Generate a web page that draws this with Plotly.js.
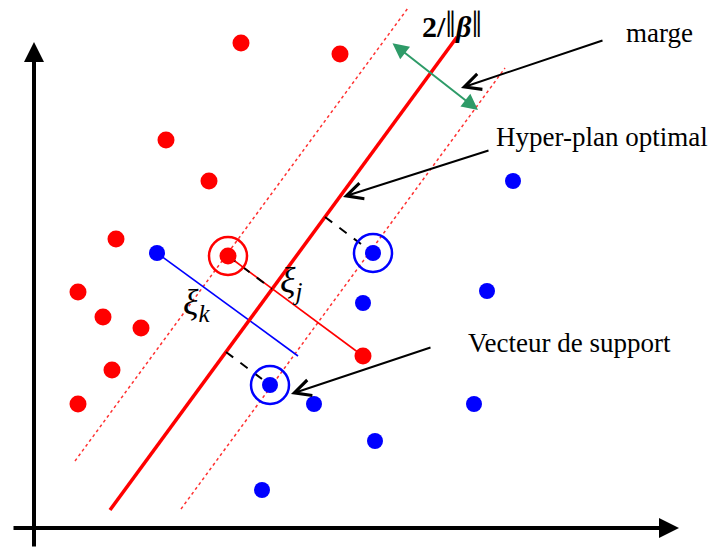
<!DOCTYPE html>
<html>
<head>
<meta charset="utf-8">
<script src="https://cdn.plot.ly/plotly-3.0.1.min.js"></script>
<style>html,body{margin:0;padding:0;background:#fff;}#chart{width:723px;height:548px;}</style>
</head>
<body>
<div id="chart"></div>
<script>
// Class +1 (red) points
const redX = [241, 340, 166, 209, 116, 228, 78, 103, 141, 112, 78, 363];
const redY = [43, 54, 140, 181, 239, 256, 292, 317, 328, 370, 404, 356];
// Class -1 (blue) points
const blueX = [513, 157, 373, 487, 363, 270, 314, 474, 375, 262];
const blueY = [181, 253, 253, 291, 303, 385, 404, 404, 441, 490];
// Support vectors (circled)
const svX = [228, 373, 270];
const svY = [256, 253, 385];
const svColor = ['#ff0000', '#0000ff', '#0000ff'];
// Optimal hyperplane and margins
const hpX = [110, 457], hpY = [510, 37];
const upX = [75, 408], upY = [461, 8];
const loX = [181, 505], loY = [509, 68];
// Slack segments
const xiKX = [157, 298], xiKY = [253, 356];
const xiJX = [228, 363], xiJY = [256, 356];
// Distances from support vectors to hyperplane (dashed)
const d1X = [325, 373], d1Y = [217, 253];
const d2X = [226, 270], d2Y = [352, 385];
const d3X = [228, 272], d3Y = [256, 289];

const traces = [
  {x: upX, y: upY, mode: 'lines', line: {color: '#ff3030', width: 1.5, dash: 'dot'}},
  {x: loX, y: loY, mode: 'lines', line: {color: '#ff3030', width: 1.5, dash: 'dot'}},
  {x: xiKX, y: xiKY, mode: 'lines', line: {color: '#0000ff', width: 1.6}},
  {x: xiJX, y: xiJY, mode: 'lines', line: {color: '#ff0000', width: 1.6}},
  {x: hpX, y: hpY, mode: 'lines', line: {color: '#ff0000', width: 3.5}},
  {x: d1X, y: d1Y, mode: 'lines', line: {color: '#000', width: 2, dash: 'dash'}},
  {x: d2X, y: d2Y, mode: 'lines', line: {color: '#000', width: 2, dash: 'dash'}},
  {x: d3X, y: d3Y, mode: 'lines', line: {color: '#000', width: 2, dash: 'dash'}},
  {x: redX, y: redY, mode: 'markers', marker: {color: '#ff0000', size: 17}},
  {x: blueX, y: blueY, mode: 'markers', marker: {color: '#0000ff', size: 16}}
];

const shapes = svX.map((cx, i) => ({
  type: 'circle', xref: 'x', yref: 'y',
  x0: cx - 19, x1: cx + 19, y0: svY[i] - 19, y1: svY[i] + 19,
  line: {color: svColor[i], width: 2.5}
}));

const serif = '"Liberation Serif", "Times New Roman", serif';
function arrow(x, y, ax, ay, opts) {
  return Object.assign({
    x: x, y: y, ax: ax, ay: ay, xref: 'x', yref: 'y', axref: 'x', ayref: 'y',
    text: '', showarrow: true, arrowcolor: '#000', arrowwidth: 2, arrowhead: 5, arrowsize: 1.6
  }, opts || {});
}
function label(x, y, text, size) {
  return {x: x, y: y, xref: 'x', yref: 'y', xanchor: 'left', yanchor: 'middle', showarrow: false,
    text: text, font: {family: serif, size: size, color: '#000'}};
}
const bars = '<span style="font-size:38px;font-weight:normal">‖</span>';
const annotations = [
  arrow(34, 42, 34, 548, {arrowwidth: 4, arrowhead: 2, arrowsize: 1}),
  arrow(679, 528, 12, 528, {arrowwidth: 4, arrowhead: 2, arrowsize: 1}),
  arrow(478, 110, 391, 42, {arrowcolor: '#2e9b68', arrowwidth: 2, arrowhead: 2, arrowsize: 1.6, arrowside: 'end+start'}),
  arrow(461, 88, 604, 40),
  arrow(343, 197, 490, 150),
  arrow(291, 394, 432, 347),
  label(420, 24, '<b>2/</b>' + bars + '<b><i>β</i></b>' + bars, 30),
  label(624, 33, 'marge', 27),
  label(494, 137, 'Hyper-plan optimal', 27),
  label(466, 343, 'Vecteur de support', 27),
  label(278, 282, '<i>ξ<sub>j</sub></i>', 36),
  label(181, 304, '<i>ξ<sub>k</sub></i>', 36)
];

const layout = {
  width: 723, height: 548,
  margin: {l: 0, r: 0, t: 0, b: 0},
  paper_bgcolor: '#fff', plot_bgcolor: '#fff',
  showlegend: false,
  xaxis: {range: [0, 723], visible: false, fixedrange: true},
  yaxis: {range: [548, 0], visible: false, fixedrange: true},
  shapes: shapes,
  annotations: annotations
};
Plotly.newPlot('chart', traces, layout, {displayModeBar: false, staticPlot: true});
</script>
</body>
</html>
